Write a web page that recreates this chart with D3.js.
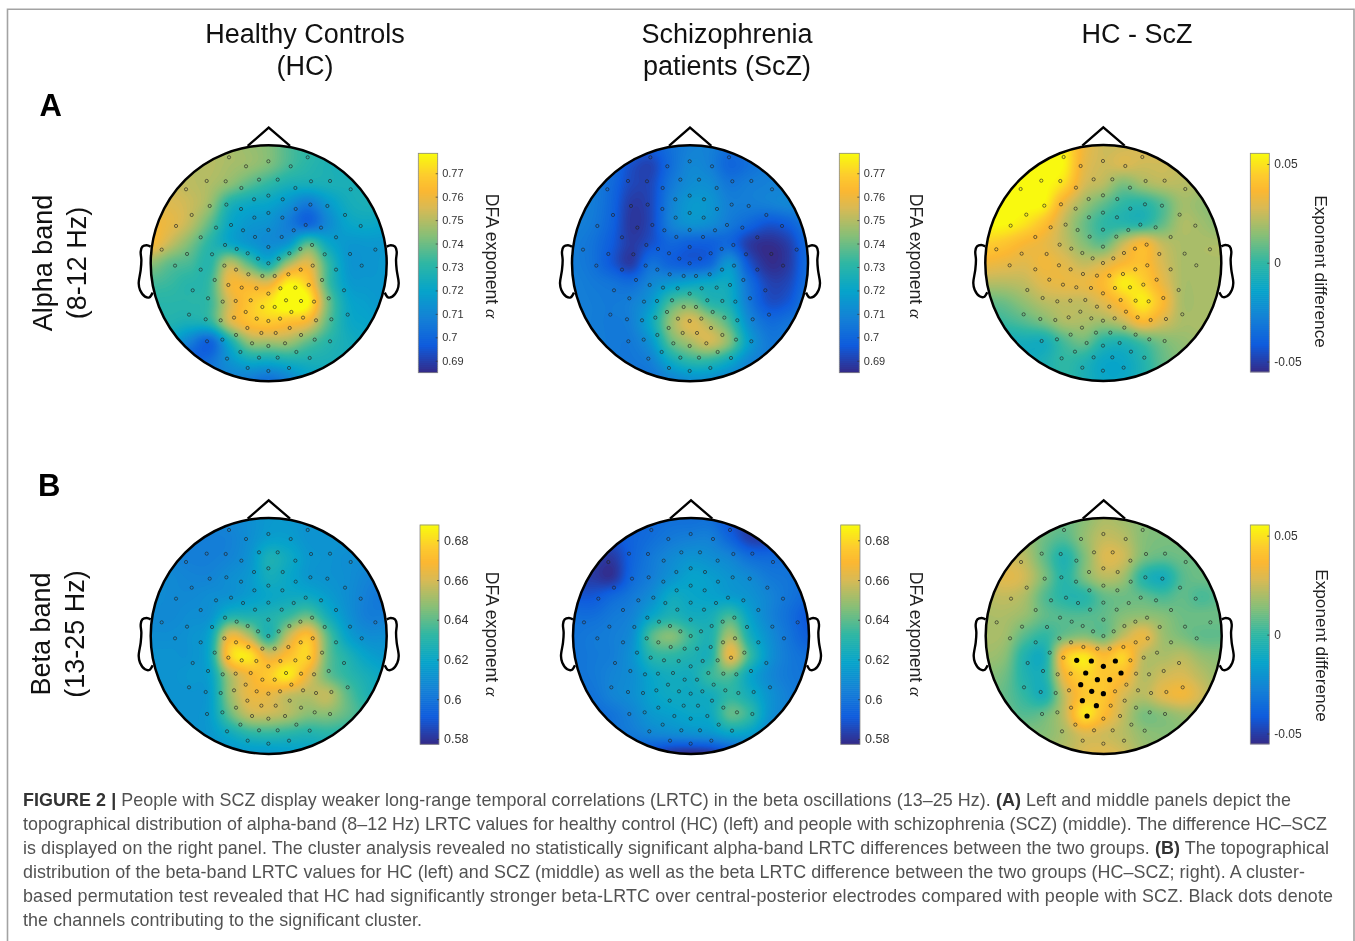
<!DOCTYPE html>
<html><head><meta charset="utf-8">
<script src="https://cdn.jsdelivr.net/npm/d3@7"></script>
<style>
html,body{margin:0;padding:0;background:#fff;overflow:hidden}
text{font-family:"Liberation Sans",Arial,sans-serif}
#fig{filter:blur(0.4px)}
</style></head><body>
<svg id="fig" width="1355" height="941"></svg>
<script>
// ---------- DATA ----------
const columnTitles = [["Healthy Controls","(HC)"],["Schizophrenia","patients (ScZ)"],["HC - ScZ"]];
const rowLetters = ["A","B"];
const rowTitles = [["Alpha band","(8-12 Hz)"],["Beta band","(13-25 Hz)"]];
const dfaLabel = "DFA exponent ";
const diffLabel = "Exponent difference";
const alphaTicks = [0.69,0.70,0.71,0.72,0.73,0.74,0.75,0.76,0.77];
const betaTicks = [0.58,0.60,0.62,0.64,0.66,0.68];
const diffTicks = [-0.05,0,0.05];
const alphaRange = [0.6849,0.7785];
const betaRange = [0.5773,0.6877];
const diffRange = [-0.0553,0.0554];

// channel positions on the head, in montage units (head spans 62..770 across, 76..784 down)
const montageX = [297,348,415,482,533,230,287,387,443,543,600,168,334,496,662,372,415,458,239,289,333,497,541,592,185,373,415,457,645,138,258,303,339,415,491,527,573,692,212,375,455,618,285,320,353,415,478,511,546,95,171,246,384,446,584,660,736,135,212,283,318,415,512,548,618,695,355,397,434,475,254,576,295,335,379,415,451,496,536,188,642,234,278,317,362,468,513,552,596,397,434,347,484,177,653,227,272,312,380,415,450,519,558,604,352,394,437,479,318,513,231,277,366,465,554,600,415,331,499,291,387,443,539,353,415,477];
const montageY = [112,139,124,139,112,183,184,179,179,184,183,208,204,204,208,238,227,238,258,254,267,267,254,258,285,293,279,293,285,318,323,315,331,330,331,315,323,318,352,351,351,352,375,387,400,381,400,387,375,389,402,403,416,416,403,402,389,437,449,437,449,430,449,437,449,437,463,468,468,463,480,480,495,503,505,521,505,503,495,511,511,535,545,543,541,541,543,545,535,561,561,576,576,584,584,598,601,593,596,603,596,593,601,598,624,639,639,624,645,645,664,659,670,670,659,664,678,696,696,716,713,713,714,744,753,744];
// channels of the significant cluster (panel HC-ScZ, beta): [x,y] in montage units
const clusterChannels = [[335,503],[379,505],[415,521],[451,505],[362,541],[468,541],[397,561],[434,561],[347,576],[380,596],[415,603],[352,624],[394,639],[366,670]];

// values on a 13 x 13 lattice over the head (thousandths)
const alphaHC = [
[746,746,748,749,748,746,743,736,731,728,725,722,722],
[750,750,750,750,748,746,742,735,730,727,725,724,722],
[753,753,751,749,744,737,731,726,725,726,726,725,724],
[756,756,753,746,728,722,720,714,706,716,724,726,725],
[761,758,751,738,722,716,714,707,700,711,720,722,720],
[762,752,742,730,722,716,712,716,737,722,716,716,716],
[745,738,735,730,750,737,725,747,757,733,716,715,716],
[735,733,730,733,760,760,757,776,768,735,718,716,716],
[730,730,730,733,755,767,774,783,778,742,722,718,716],
[728,728,726,730,754,765,768,765,760,738,723,720,718],
[724,720,708,699,724,745,747,747,738,730,725,722,722],
[716,706,698,703,714,722,722,725,726,726,725,724,724],
[712,712,710,708,708,706,702,708,718,722,724,724,724]];
const alphaSCZ = [
[706,706,705,702,698,703,708,708,703,706,708,708,708],
[706,706,703,694,691,702,710,708,700,703,707,708,708],
[707,707,701,692,692,705,712,712,705,707,708,708,708],
[708,707,700,689,692,708,716,715,708,707,708,710,710],
[708,706,699,688,692,708,714,712,706,700,695,698,706],
[707,704,697,689,694,700,698,698,700,689,686,690,702],
[707,704,696,689,703,699,697,700,715,695,686,689,702],
[708,706,704,702,710,716,720,722,722,703,691,692,703],
[708,707,706,708,716,735,740,730,725,706,694,696,706],
[708,707,706,708,722,745,756,748,735,712,702,704,707],
[708,707,706,706,715,738,748,754,743,718,706,706,707],
[708,707,706,705,708,722,730,730,722,710,706,706,707],
[708,707,706,705,704,708,712,712,708,706,705,705,706]];
const alphaDiff = [
[44,48,54,54,52,34,26,26,28,26,24,22,20],
[48,52,56,56,54,32,26,28,26,26,24,22,20],
[52,56,56,56,48,28,22,12,18,22,22,20,18],
[56,56,56,54,32,18,8,0,-2,6,18,16,14],
[55,55,50,40,24,10,0,-2,-2,8,20,18,14],
[45,42,36,32,24,14,8,24,36,24,20,20,20],
[34,32,30,34,30,24,28,36,40,28,20,20,20],
[22,22,24,30,32,32,38,52,46,32,20,20,20],
[8,10,16,22,24,24,30,40,52,38,20,20,20],
[0,2,6,12,20,20,18,24,36,28,20,20,20],
[-4,-8,-8,-8,4,10,-2,-4,4,12,16,18,18],
[-4,-8,-10,-6,0,-4,-12,-12,-4,8,14,16,18],
[-4,-6,-6,-6,0,-6,-12,-12,-4,8,12,14,16]];
const betaHC = [
[606,606,606,606,608,610,614,614,612,612,612,612,610],
[606,606,604,604,605,610,616,616,612,612,612,612,610],
[608,606,604,604,606,612,626,622,614,612,610,610,610],
[610,608,606,606,610,614,624,620,614,612,610,606,604],
[610,608,608,610,612,616,620,622,622,616,610,604,600],
[608,608,610,612,628,628,628,634,642,625,612,604,604],
[610,610,612,620,664,654,630,657,672,640,618,610,610],
[612,612,612,622,676,683,662,672,678,642,628,618,614],
[612,612,614,618,652,667,676,684,664,642,632,625,620],
[612,612,612,616,648,664,664,657,654,656,640,628,622],
[612,612,612,616,640,656,657,653,646,646,640,632,625],
[612,612,612,614,622,630,632,630,628,630,628,625,622],
[612,612,612,612,612,614,614,616,618,620,620,620,620]];
const betaSCZ = [
[596,596,594,594,596,598,598,598,588,584,588,596,598],
[590,590,590,594,598,602,604,604,594,583,584,594,598],
[584,584,582,594,602,608,612,610,606,598,596,598,598],
[584,582,580,596,604,612,618,616,612,608,602,600,598],
[590,590,596,602,610,622,620,618,616,612,606,600,596],
[598,598,602,606,620,628,624,625,636,618,606,598,590],
[600,602,604,610,638,646,634,628,652,625,610,600,592],
[600,602,604,612,630,632,628,628,664,634,612,602,598],
[600,602,606,610,620,624,624,634,638,620,608,602,600],
[598,600,606,610,618,622,622,624,632,624,612,604,600],
[592,596,600,606,614,617,620,622,640,632,612,604,600],
[586,590,598,602,606,608,610,612,618,616,606,600,596],
[584,584,588,590,586,580,578,580,588,596,598,596,594]];
const betaDiff = [
[20,20,18,14,10,14,20,18,14,12,14,14,14],
[20,20,18,10,6,16,24,22,14,12,12,12,12],
[24,26,22,8,-4,12,28,26,12,8,10,10,10],
[26,30,26,12,-2,12,22,18,-2,-8,6,10,10],
[22,24,20,6,-2,-2,8,10,8,4,8,4,8],
[20,20,16,8,6,6,8,14,16,14,10,10,10],
[20,18,6,0,10,14,10,24,32,18,12,8,8],
[18,14,-4,-6,40,50,38,46,24,20,22,16,14],
[14,10,-4,-4,34,46,42,38,22,26,28,22,16],
[12,8,0,-6,24,42,42,28,22,30,34,26,16],
[12,10,6,10,24,50,38,24,12,14,18,18,16],
[14,14,14,14,20,28,26,22,16,14,14,14,14],
[16,16,16,18,22,28,30,26,18,16,14,14,14]];

const captionLines = [
 [["FIGURE 2 | ",1],["People with SCZ display weaker long-range temporal correlations (LRTC) in the beta oscillations (13–25 Hz). ",0],["(A)",1],[" Left and middle panels depict the",0]],
 [["topographical distribution of alpha-band (8–12 Hz) LRTC values for healthy control (HC) (left) and people with schizophrenia (SCZ) (middle). The difference HC–SCZ",0]],
 [["is displayed on the right panel. The cluster analysis revealed no statistically significant alpha-band LRTC differences between the two groups. ",0],["(B)",1],[" The topographical",0]],
 [["distribution of the beta-band LRTC values for HC (left) and SCZ (middle) as well as the beta LRTC difference between the two groups (HC–SCZ; right). A cluster-",0]],
 [["based permutation test revealed that HC had significantly stronger beta-LRTC over central-posterior electrodes compared with people with SCZ. Black dots denote",0]],
 [["the channels contributing to the significant cluster.",0]]
];

// ---------- LAYOUT ----------
const svg = d3.select("#fig");
const R = 118, LEVELS = 110, UP = 8, N = 13;
const parula = d3.scaleLinear()
  .domain([0,.125,.25,.375,.5,.625,.75,.83,.9,1])
  .range(["#352a87","#0f5cdd","#1481d6","#06a4ca","#2eb7a4","#87bf77","#d8ba55","#fbb732","#fdcb2e","#f9fb0e"])
  .interpolate(d3.interpolateRgb).clamp(true);
const tickFmt = d => d3.format(".2~f")(d).replace("−","-");

const panels = [
 {id:"a1",grid:alphaHC, unit:1000,dom:alphaRange,ticks:alphaTicks,cx:268.7,cy:263.3,bar:[418.3,437.7],barY:[153.3,372.7],label:dfaLabel,lx:486,ly:256,fs:11,tx:4.5},
 {id:"a2",grid:alphaSCZ,unit:1000,dom:alphaRange,ticks:alphaTicks,cx:690,cy:263.3,bar:[839.3,859.3],barY:[153.3,372.7],label:dfaLabel,lx:910,ly:256,fs:11,tx:4.5},
 {id:"a3",grid:alphaDiff,unit:1000,dom:diffRange,ticks:diffTicks,cx:1103.3,cy:263,bar:[1250.3,1269.3],barY:[153.3,372],label:diffLabel,lx:1315,ly:271.5,fs:12,tx:5},
 {id:"b1",grid:betaHC, unit:1000,dom:betaRange,ticks:betaTicks,cx:268.7,cy:636,bar:[420,439],barY:[525,744.3],label:dfaLabel,lx:486,ly:634,fs:12.5,tx:5},
 {id:"b2",grid:betaSCZ,unit:1000,dom:betaRange,ticks:betaTicks,cx:691,cy:636,bar:[840.7,860],barY:[525,744.3],label:dfaLabel,lx:910,ly:634,fs:12.5,tx:5},
 {id:"b3",grid:betaDiff,unit:1000,dom:diffRange,ticks:diffTicks,cx:1103.7,cy:636,bar:[1250.3,1269.3],barY:[525,744],label:diffLabel,lx:1316,ly:645.5,fs:12,tx:5,cluster:clusterChannels}
];

// frame
svg.append("path").attr("d","M7.5,941V9.3H1354V941").attr("fill","none").attr("stroke","#a3a3a3").attr("stroke-width",1.6);

// Catmull-Rom upsampling of the lattice for a smooth map
function cr(a,b,c,d,t){return 0.5*((2*b)+(-a+c)*t+(2*a-5*b+4*c-d)*t*t+(-a+3*b-3*c+d)*t*t*t);}
function upsample(g){
  const M=(N-1)*UP+1,out=new Float64Array(M*M);
  const at=(r,c)=>g[Math.max(0,Math.min(N-1,r))][Math.max(0,Math.min(N-1,c))];
  for(let j=0;j<M;j++){const r=Math.min(N-2,Math.floor(j/UP)),v=j/UP-r;
    for(let i=0;i<M;i++){const c=Math.min(N-2,Math.floor(i/UP)),u=i/UP-c;
      const p=[-1,0,1,2].map(k=>cr(at(r+k,c-1),at(r+k,c),at(r+k,c+1),at(r+k,c+2),u));
      out[j*M+i]=cr(p[0],p[1],p[2],p[3],v);
    }}
  return {M,out};
}

const earL = [[62,380],[50,376],[37,380],[32,395],[34,420],[32,450],[26,490],[30,510],[45,530],[58,532],[68,518]];
const nose = [[353,78],[416,23],[480,78]];

panels.forEach(p=>{
  const xs=d3.scaleLinear().domain([62,770]).range([p.cx-R,p.cx+R]);
  const ys=d3.scaleLinear().domain([76,784]).range([p.cy-R,p.cy+R]);
  const color=d3.scaleLinear().domain(p.dom).range([0,1]);
  const g=svg.append("g").attr("class","topo");
  g.append("clipPath").attr("id","clip-"+p.id).append("circle").attr("cx",p.cx).attr("cy",p.cy).attr("r",R);
  const {M,out}=upsample(p.grid);
  const step=(p.dom[1]-p.dom[0])/LEVELS;
  const th=d3.range(LEVELS).map(i=>(p.dom[0]+i*step)*p.unit);
  const contours=d3.contours().size([M,M]).smooth(true).thresholds(th)(out);
  const tf=d3.geoTransform({point(x,y){this.stream.point(xs(62+59*(x-.5)/UP),ys(76+59*(y-.5)/UP));}});
  const path=d3.geoPath(tf);
  const cg=g.append("g").attr("clip-path",`url(#clip-${p.id})`);
  cg.append("circle").attr("cx",p.cx).attr("cy",p.cy).attr("r",R).attr("fill",parula(0));
  cg.selectAll("path").data(contours).join("path")
    .attr("d",path).attr("fill",d=>parula(color(d.value/p.unit+step/2)));
  // head
  const line=d3.line().x(d=>xs(d[0])).y(d=>ys(d[1]));
  const earLine=d3.line().x(d=>xs(d[0])).y(d=>ys(d[1])).curve(d3.curveCatmullRom.alpha(.5));
  g.append("path").attr("d",line(nose)).attr("fill","none").attr("stroke","#000").attr("stroke-width",2.3).attr("stroke-linejoin","miter");
  g.append("path").attr("d",earLine(earL)).attr("fill","none").attr("stroke","#000").attr("stroke-width",2.4);
  g.append("path").attr("d",earLine(earL.map(d=>[832-d[0],d[1]]))).attr("fill","none").attr("stroke","#000").attr("stroke-width",2.4);
  g.append("circle").attr("cx",p.cx).attr("cy",p.cy).attr("r",R).attr("fill","none").attr("stroke","#000").attr("stroke-width",2.5);
  // channels
  const isCl=i=>p.cluster&&p.cluster.some(c=>c[0]===montageX[i]&&c[1]===montageY[i]);
  g.selectAll("circle.ch").data(d3.range(montageX.length)).join("circle").attr("class","ch")
    .attr("cx",i=>xs(montageX[i])).attr("cy",i=>ys(montageY[i]))
    .attr("r",i=>isCl(i)?2.6:1.6)
    .attr("fill",i=>isCl(i)?"#000":"none")
    .attr("stroke",i=>isCl(i)?"none":"#222").attr("stroke-opacity",.8).attr("stroke-width",.8);
  // colorbar
  const by=d3.scaleLinear().domain(p.dom).range([p.barY[1],p.barY[0]]);
  const cb=svg.append("g").attr("class","colorbar");
  const bn=110,levels=d3.range(bn).map(i=>p.dom[0]+(p.dom[1]-p.dom[0])*i/bn);
  cb.selectAll("rect").data(levels).join("rect")
    .attr("x",p.bar[0]).attr("width",p.bar[1]-p.bar[0])
    .attr("y",d=>by(d+(p.dom[1]-p.dom[0])/bn)-.3).attr("height",(p.barY[1]-p.barY[0])/bn+.6)
    .attr("fill",d=>parula(color(d+(p.dom[1]-p.dom[0])/bn/2)));
  cb.append("rect").attr("x",p.bar[0]).attr("y",p.barY[0]).attr("width",p.bar[1]-p.bar[0]).attr("height",p.barY[1]-p.barY[0])
    .attr("fill","none").attr("stroke","#8a8a8a").attr("stroke-width",.8);
  const axis=d3.axisRight(by).tickValues(p.ticks).tickFormat(tickFmt).tickSizeInner(-2).tickSizeOuter(0).tickPadding(p.tx);
  const ax=cb.append("g").attr("transform",`translate(${p.bar[1]},0)`).call(axis);
  ax.select(".domain").remove();
  ax.selectAll("line").attr("stroke","#333").attr("stroke-width",.7);
  ax.selectAll("text").attr("fill","#333").style("font-size",p.fs+"px").style("font-family",'"Liberation Sans",Arial,sans-serif');
  // label
  const t=svg.append("text").attr("transform",`translate(${p.lx},${p.ly}) rotate(90)`).attr("text-anchor","middle")
    .attr("fill","#222").style("font-size",p.label===dfaLabel?"17.6px":"17.2px").text(p.label);
  if(p.label===dfaLabel) t.append("tspan").style("font-family",'"Liberation Serif",serif').style("font-style","italic").text("α");
});

// titles
const colX=[305,727,1137];
columnTitles.forEach((lines,i)=>lines.forEach((s,j)=>{
  svg.append("text").attr("x",colX[i]).attr("y",43+32*j).attr("text-anchor","middle").attr("fill","#111").style("font-size","27px").text(s);
}));
rowLetters.forEach((s,i)=>svg.append("text").attr("x",[39.5,38][i]).attr("y",[116,496][i]).attr("fill","#000")
  .style("font-size","31px").style("font-weight","bold").text(s));
rowTitles.forEach((lines,i)=>lines.forEach((s,j)=>{
  svg.append("text").attr("transform",`translate(${[[52,86],[50,84]][i][j]},${[263,634][i]}) rotate(-90)`)
    .attr("text-anchor","middle").attr("fill","#111").style("font-size","27px").text(s);
}));

// caption
const capY=[805.5,829.5,853.8,878,902,926];
const capEnd=[1291,1327,1329,1305,1333,422];
captionLines.forEach((runs,i)=>{
  const t=svg.append("text").attr("x",23).attr("y",capY[i]).attr("fill","#505050").style("font-size","17.9px")
    .attr("textLength",capEnd[i]-23).attr("lengthAdjust","spacing");
  runs.forEach(r=>t.append("tspan").attr("font-weight",r[1]?"bold":"normal").attr("fill",r[1]?"#333":"#525252").text(r[0]));
});
</script>
</body></html>
